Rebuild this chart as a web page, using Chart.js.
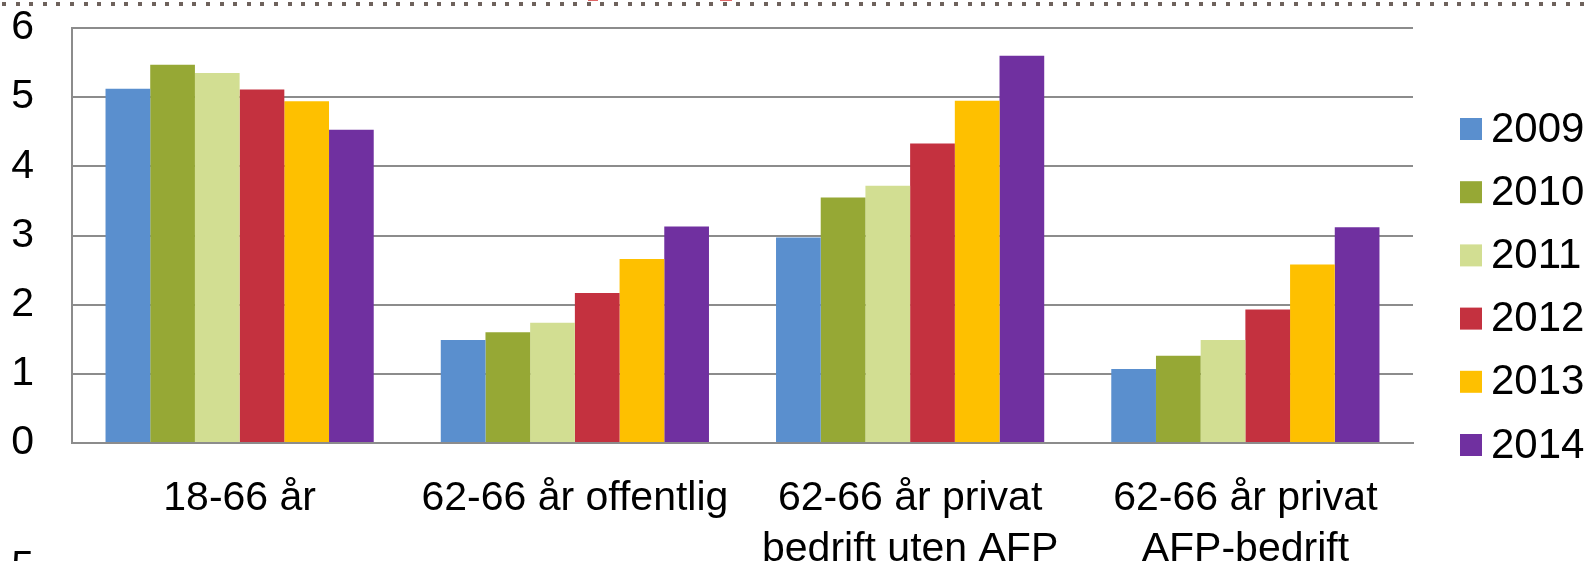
<!DOCTYPE html>
<html>
<head>
<meta charset="utf-8">
<script src="https://cdn.jsdelivr.net/npm/chart.js@4"></script>
<style>
  html, body { margin: 0; padding: 0; background: #fff; overflow: hidden; }
  canvas { display: block; }
</style>
</head>
<body>
<canvas id="chart" width="1590" height="561"></canvas>
<script>
// Categories (x axis), multi-line labels as in the original
const categories = [
    ['18-66 år'],
    ['62-66 år offentlig'],
    ['62-66 år privat', 'bedrift uten AFP'],
    ['62-66 år privat', 'AFP-bedrift']
];

// Series, one per year
const years = ['2009', '2010', '2011', '2012', '2013', '2014'];
const values2009 = [5.12, 1.49, 2.97, 1.07];
const values2010 = [5.47, 1.60, 3.55, 1.26];
const values2011 = [5.35, 1.74, 3.72, 1.49];
const values2012 = [5.11, 2.17, 4.33, 1.93];
const values2013 = [4.94, 2.66, 4.95, 2.58];
const values2014 = [4.53, 3.13, 5.60, 3.12];

const yearColors = ['#5A8FCE', '#96A835', '#D2DE92', '#C4313F', '#FEC000', '#7030A0'];

const FONT = "'Liberation Sans', Arial, sans-serif";
const GRID = '#8c8c8c';

const seriesValues = [values2009, values2010, values2011, values2012, values2013, values2014];

// Legend drawn by hand on the right side, plus slide fragments (dotted rule at top, cut-off "5")
const sideLegend = {
    id: 'sideLegend',
    afterDraw(chart) {
        const ctx = chart.ctx;
        ctx.save();

        // dotted rule along the top edge
        ctx.fillStyle = '#6e625c';
        for (let x = 2; x < chart.width; x += 13.6) {
            ctx.fillRect(Math.round(x), 2, 4, 4);
        }

        // bits of the red slide title cut off above
        ctx.fillStyle = '#e06666';
        ctx.fillRect(588, 0, 10, 1);
        ctx.fillRect(720, 0, 12, 1);

        // legend
        ctx.font = '42px ' + FONT;
        ctx.textAlign = 'left';
        ctx.textBaseline = 'middle';
        chart.data.datasets.forEach((ds, i) => {
            const cy = 129 + i * 63.2;
            ctx.fillStyle = ds.backgroundColor;
            ctx.fillRect(1460, cy - 11, 22, 22);
            ctx.fillStyle = '#000';
            ctx.fillText(ds.label, 1491, cy + 1);
        });

        // top of the next chart's axis label peeking in at the bottom
        ctx.font = '41px ' + FONT;
        ctx.textAlign = 'right';
        ctx.textBaseline = 'alphabetic';
        ctx.fillText('5', 34, 579);

        ctx.restore();
    }
};

new Chart(document.getElementById('chart').getContext('2d'), {
    type: 'bar',
    data: {
        labels: categories,
        datasets: years.map((y, i) => ({
            label: y,
            data: seriesValues[i],
            backgroundColor: yearColors[i],
            borderWidth: 0,
            barPercentage: 1,
            categoryPercentage: 0.8
        }))
    },
    options: {
        responsive: false,
        animation: false,
        devicePixelRatio: 1,
        layout: {
            padding: { top: 28, right: 177, left: 0, bottom: 0 }
        },
        plugins: {
            legend: { display: false },
            tooltip: { enabled: false },
            title: { display: false }
        },
        scales: {
            x: {
                grid: { display: false, drawTicks: false },
                border: { display: true, color: GRID, width: 2 },
                ticks: {
                    color: '#000',
                    font: { family: FONT, size: 41, lineHeight: 1.25 },
                    padding: 30,
                    maxRotation: 0,
                    autoSkip: false
                },
                afterFit(scale) {
                    scale.height = 118;
                    scale.paddingLeft = 0;
                    scale.paddingRight = 0;
                }
            },
            y: {
                min: 0,
                max: 6,
                ticks: {
                    stepSize: 1,
                    color: '#000',
                    font: { family: FONT, size: 41 },
                    padding: 38
                },
                grid: { color: GRID, lineWidth: 2, drawTicks: false },
                border: { display: true, color: GRID, width: 2 },
                afterFit(scale) {
                    scale.width = 72;
                    scale.paddingTop = 0;
                    scale.paddingBottom = 0;
                }
            }
        }
    },
    plugins: [sideLegend]
});
</script>
</body>
</html>
